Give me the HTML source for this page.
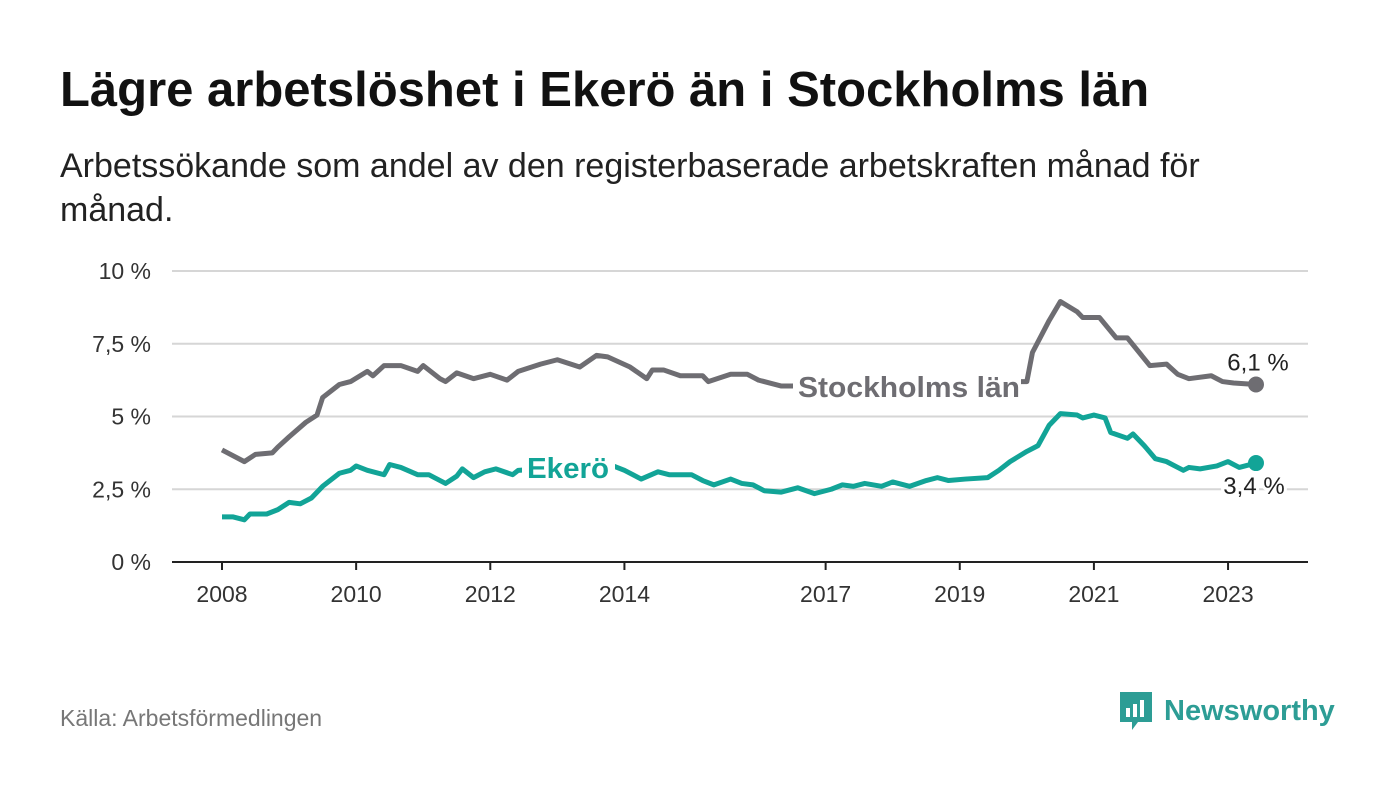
<!DOCTYPE html>
<html><head><meta charset="utf-8"><style>
body{margin:0;width:1400px;height:794px;background:#fff;font-family:"Liberation Sans",sans-serif;overflow:hidden;position:relative}
#title{position:absolute;left:60px;top:62px;font-size:49px;font-weight:bold;color:#111;margin:0;white-space:nowrap}
#sub{position:absolute;left:60px;top:144px;font-size:34px;color:#222;line-height:44px;width:1200px}
#src{position:absolute;left:60px;top:705px;font-size:23px;color:#777}
#logo{position:absolute;left:1118px;top:690px;display:flex;align-items:center;gap:10px;color:#2d9d95;font-size:29px;font-weight:bold}
svg{position:absolute;left:0;top:0}
</style></head><body>
<h1 id="title">Lägre arbetslöshet i Ekerö än i Stockholms län</h1>
<div id="sub">Arbetssökande som andel av den registerbaserade arbetskraften månad för månad.</div>
<div id="src">Källa: Arbetsförmedlingen</div>
<div id="logo">
<svg width="36" height="42" viewBox="0 0 36 42" style="position:static"><path d="M2 2h32v30H20l-6 8v-8H2z" fill="#2d9d95"/><rect x="8" y="18" width="4" height="9" fill="#fff"/><rect x="15" y="14" width="4" height="13" fill="#fff"/><rect x="22" y="10" width="4" height="17" fill="#fff"/></svg>
<span>Newsworthy</span></div>
<svg id="chart" width="1400" height="794"></svg>
<script>
const yTicks=[0,2.5,5,7.5,10];
const yTickLabels=["0 %","2,5 %","5 %","7,5 %","10 %"];
const xTickYears=[2008,2010,2012,2014,2017,2019,2021,2023];
const sthMonths=[0,4,6,9,10,12,15,17,18,21,23,26,27,29,32,35,36,39,40,42,45,48,51,53,57,60,64,67,69,73,76,77,79,82,86,87,91,94,96,100,102,110,120,130,140,144,145,148,150,153,154,157,160,162,166,169,171,173,177,179,181,185];
const sthValues=[3.85,3.45,3.7,3.75,3.95,4.3,4.8,5.05,5.65,6.1,6.2,6.55,6.4,6.75,6.75,6.55,6.75,6.3,6.2,6.5,6.3,6.45,6.25,6.55,6.8,6.95,6.7,7.1,7.05,6.7,6.3,6.6,6.6,6.4,6.4,6.2,6.45,6.45,6.25,6.05,6.05,6.1,6.2,6.2,6.2,6.2,7.2,8.3,8.95,8.6,8.4,8.4,7.7,7.7,6.75,6.8,6.45,6.3,6.4,6.2,6.15,6.1];
const ekMonths=[0,2,4,5,8,10,12,14,16,18,21,23,24,26,29,30,32,35,37,40,42,43,45,47,49,52,53,57,62,66,70,72,75,78,80,84,86,88,91,93,95,97,100,103,106,109,111,113,115,118,120,123,126,128,130,133,137,139,141,144,146,148,150,153,154,156,158,159,162,163,165,167,169,171,172,173,175,178,180,182,185];
const ekValues=[1.55,1.55,1.45,1.65,1.65,1.8,2.05,2.0,2.2,2.6,3.05,3.15,3.3,3.15,3.0,3.35,3.25,3.0,3.0,2.7,2.95,3.2,2.9,3.1,3.2,3.0,3.15,3.2,3.25,3.3,3.3,3.15,2.85,3.1,3.0,3.0,2.8,2.65,2.85,2.7,2.65,2.45,2.4,2.55,2.35,2.5,2.65,2.6,2.7,2.6,2.75,2.6,2.8,2.9,2.8,2.85,2.9,3.15,3.45,3.8,4.0,4.7,5.1,5.05,4.95,5.05,4.95,4.45,4.25,4.4,4.0,3.55,3.45,3.25,3.15,3.25,3.2,3.3,3.45,3.25,3.4];
const NS="http://www.w3.org/2000/svg";
const svg=document.getElementById('chart');
const x0=222,pxPerYear=67.07,y0=562,pxPerUnit=29.1;
const xm=m=>x0+m/12*pxPerYear;
const xy=yr=>x0+(yr-2008)*pxPerYear;
const yv=v=>y0-v*pxPerUnit;
function mk(t,a){const e=document.createElementNS(NS,t);for(const k in a)e.setAttribute(k,a[k]);svg.appendChild(e);return e;}
yTicks.forEach((t,i)=>{
 const g=mk('line',{x1:172,x2:1308,y1:yv(t),y2:yv(t),stroke:t===0?'#222':'#d6d6d6','stroke-width':2});
 
 
 const l=mk('text',{x:151,y:yv(t)+8,'text-anchor':'end','font-size':23,fill:'#333','font-family':'Liberation Sans'});
 l.textContent=yTickLabels[i];
 
 
});
xTickYears.forEach(yr=>{
 const t=mk('line',{x1:xy(yr),x2:xy(yr),y1:562,y2:570,stroke:'#222','stroke-width':2});
 
 
 const l=mk('text',{x:xy(yr),y:602,'text-anchor':'middle','font-size':23,fill:'#333','font-family':'Liberation Sans'});
 l.textContent=yr;
 
 
});
function series(ms,vs,col,name){
 const p=mk('polyline',{points:ms.map((m,i)=>xm(m)+','+yv(vs[i])).join(' '),fill:'none',stroke:col,'stroke-width':5,'stroke-linejoin':'round'});
 
 
 const last=ms.length-1;
 const c=mk('circle',{cx:xm(ms[last]),cy:yv(vs[last]),r:8,fill:col});
 
 
 return [xm(ms[last]),yv(vs[last])];
}
const s=series(sthMonths,sthValues,'#6e6d72','stockholm');
const e=series(ekMonths,ekValues,'#12a497','ekero');
function mask(x,y,w,h,name){
 const r=mk('rect',{x:x,y:y,width:w,height:h,fill:'#fff'});
 
 
}
mask(793,365,228,40,'stockholm-label-bg');
mask(522,446,93,40,'ekero-label-bg');
function lab(txt,x,y,col,name,anchor,bold,size,len){
 const t=mk('text',{x:x,y:y,'text-anchor':anchor,'font-size':size,'font-weight':bold?'bold':'normal',fill:col,stroke:'#fff','stroke-width':bold?0:6,'paint-order':'stroke','font-family':'Liberation Sans'});
 if(len){t.setAttribute('textLength',len);t.setAttribute('lengthAdjust','spacingAndGlyphs');}
 t.textContent=txt;
 
 
}
lab('Stockholms län',798,397,'#6e6d72','stockholm-label','start',true,29,222);
lab('Ekerö',527,478,'#12a497','ekero-label','start',true,29,82);
lab('6,1 %',s[0]+2,s[1]-14,'#222','stockholm-value-label','middle',false,24,0);
lab('3,4 %',e[0]-2,e[1]+31,'#222','ekero-value-label','middle',false,24,0);
</script>
</body></html>
